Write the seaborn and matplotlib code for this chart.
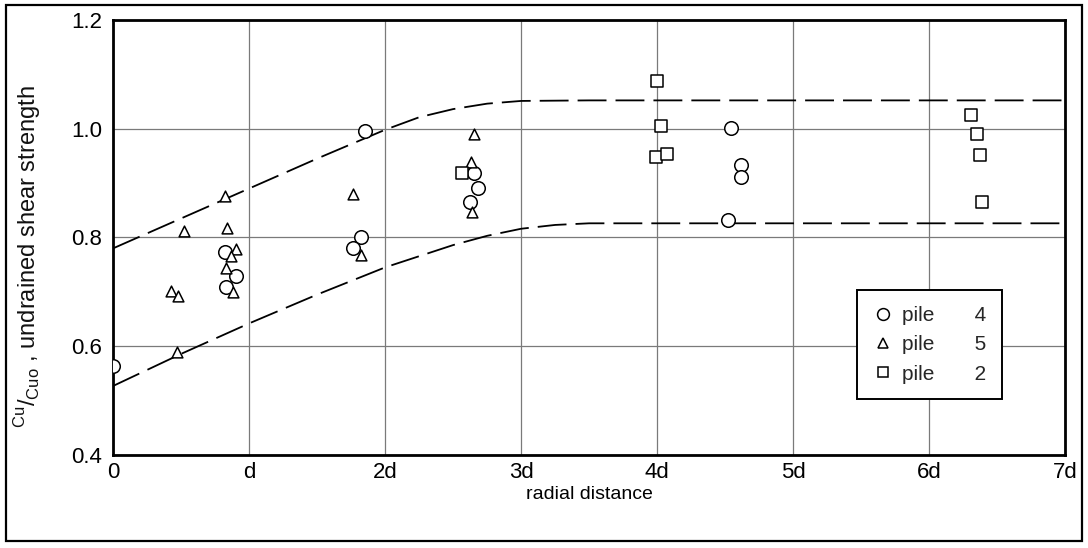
import matplotlib
matplotlib.use("Agg")
import matplotlib.pyplot as plt
from matplotlib.lines import Line2D
from matplotlib.patches import Rectangle
import seaborn as sns
import pandas as pd

# ---- data (x in pile diameters d, y = Cu/Cuo) ----
pile4_x = [0.0, 0.82, 0.90, 0.83, 1.85, 1.825, 1.765, 2.65, 2.68, 2.625, 4.54, 4.62, 4.62, 4.52]
pile4_y = [0.563, 0.774, 0.729, 0.709, 0.996, 0.801, 0.781, 0.918, 0.890, 0.866, 1.002, 0.933, 0.912, 0.832]

pile5_x = [0.425, 0.48, 0.518, 0.825, 0.838, 0.905, 0.87, 0.832, 0.882, 0.468, 1.766, 1.82, 2.655, 2.628, 2.64]
pile5_y = [0.702, 0.692, 0.812, 0.876, 0.817, 0.779, 0.765, 0.744, 0.700, 0.589, 0.879, 0.767, 0.991, 0.939, 0.846]

pile2_x = [2.565, 4.0, 4.03, 3.99, 4.07, 6.31, 6.355, 6.375, 6.39]
pile2_y = [0.918, 1.088, 1.005, 0.947, 0.953, 1.025, 0.990, 0.951, 0.865]

# envelope curves
upper_x = [0, 0.5, 1.0, 1.5, 2.0, 2.25, 2.5, 2.75, 3.0, 3.5, 7.0]
upper_y = [0.780, 0.835, 0.890, 0.945, 0.998, 1.021, 1.036, 1.046, 1.051, 1.052, 1.052]
lower_x = [0, 0.5, 1.0, 1.5, 2.0, 2.5, 2.75, 3.0, 3.25, 3.5, 7.0]
lower_y = [0.527, 0.586, 0.642, 0.695, 0.745, 0.786, 0.803, 0.816, 0.823, 0.826, 0.826]

x_ticks = [0, 1, 2, 3, 4, 5, 6, 7]
x_tick_labels = ["0", "d", "2d", "3d", "4d", "5d", "6d", "7d"]
y_ticks = [0.4, 0.6, 0.8, 1.0, 1.2]
y_tick_labels = ["0.4", "0.6", "0.8", "1.0", "1.2"]

legend_names = ["pile", "pile", "pile"]
legend_nums = ["4", "5", "2"]

sns.set_theme(style="white")
plt.rcParams['font.family'] = ['Liberation Sans', 'DejaVu Sans']
plt.rcParams['mathtext.fontset'] = 'custom'
plt.rcParams['mathtext.rm'] = 'Liberation Sans'

fig = plt.figure(figsize=(10.88, 5.48), dpi=100)
ax = fig.add_axes([0.104, 0.1697, 0.875, 0.794])

# grid
for xv in x_ticks:
    ax.axvline(xv, color="#7a7a7a", lw=0.9, zorder=0)
for yv in y_ticks:
    ax.axhline(yv, color="#7a7a7a", lw=0.9, zorder=0)

df_u = pd.DataFrame({"x": upper_x, "y": upper_y})
df_l = pd.DataFrame({"x": lower_x, "y": lower_y})
for d in (df_u, df_l):
    sns.lineplot(data=d, x="x", y="y", ax=ax, color="black", lw=1.3,
                 dashes=False, zorder=2, estimator=None, sort=False)
for line in ax.get_lines()[-2:]:
    line.set_dashes((16, 5))

common = dict(facecolor="white", edgecolor="black", linewidth=1.1, zorder=3, ax=ax, legend=False)
sns.scatterplot(x=pile4_x, y=pile4_y, marker="o", s=95, **common)
sns.scatterplot(x=pile5_x, y=pile5_y, marker="^", s=60, **common)
sns.scatterplot(x=pile2_x, y=pile2_y, marker="s", s=70, **common)

ax.set_xlim(0, 7)
ax.set_ylim(0.4, 1.2)
ax.set_xticks(x_ticks)
ax.set_xticklabels(x_tick_labels)
ax.set_yticks(y_ticks)
ax.set_yticklabels(y_tick_labels)
ax.tick_params(axis="both", length=0, labelsize=16, colors="black")
ax.tick_params(axis="x", pad=5)
ax.tick_params(axis="y", pad=8)
for sp in ax.spines.values():
    sp.set_visible(True)
    sp.set_color("black")
    sp.set_linewidth(2.0)

ax.set_xlabel("radial distance", fontsize=14, labelpad=2, color="black")
ax.set_ylabel(r"$^{\mathrm{Cu}}/_{\mathrm{Cuo}}$ , undrained shear strength",
              fontsize=17, color="#111111")
ax.yaxis.set_label_coords(-0.074, 0.457)

handles = [
    Line2D([], [], ls="none", marker="o", ms=8.5, mfc="white", mec="black", mew=1.1),
    Line2D([], [], ls="none", marker="^", ms=7, mfc="white", mec="black", mew=1.1),
    Line2D([], [], ls="none", marker="s", ms=7, mfc="white", mec="black", mew=1.1),
]
labels = [f"{n}       {v}" for n, v in zip(legend_names, legend_nums)]
leg = ax.legend(handles, labels, loc="upper left", bbox_to_anchor=(5.47, 0.703),
                bbox_transform=ax.transData, frameon=True, fancybox=False,
                edgecolor="black", framealpha=1, fontsize=15, borderpad=0.75,
                handletextpad=0.4, labelspacing=0.5, handlelength=1.0,
                borderaxespad=0)
leg.get_frame().set_linewidth(1.4)

fig.patches.append(Rectangle((0.0055, 0.0128), 0.989, 0.978, transform=fig.transFigure,
                             fill=False, lw=1.6, ec="black"))

fig.savefig("out.png", dpi=100)
